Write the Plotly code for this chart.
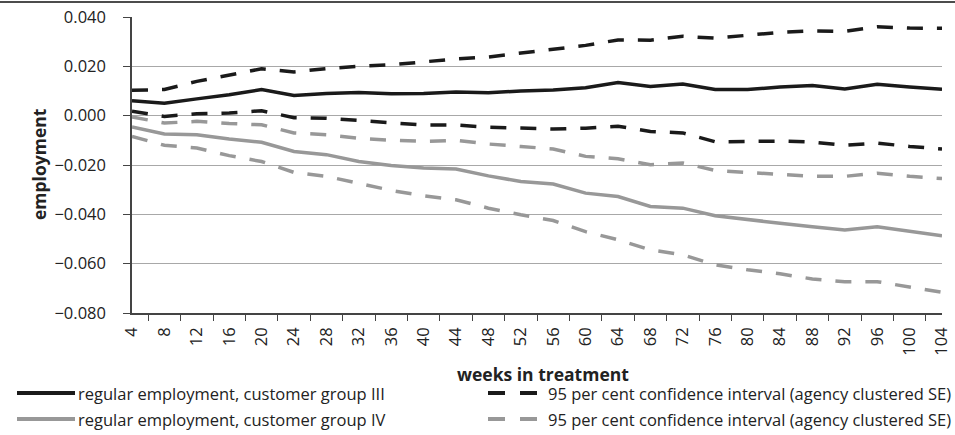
import plotly.graph_objects as go

weeks = [str(w) for w in range(4, 105, 4)]

# group III (black)
grp3 = [0.0061, 0.0050, 0.0068, 0.0085, 0.0106, 0.0082, 0.0090, 0.0094, 0.0089, 0.0090, 0.0096, 0.0093,
        0.0100, 0.0104, 0.0113, 0.0134, 0.0118, 0.0128, 0.0106, 0.0106, 0.0116, 0.0122, 0.0108, 0.0127,
        0.0116, 0.0107]
grp3_hi = [0.0103, 0.0106, 0.0139, 0.0166, 0.0190, 0.0177, 0.0191, 0.0200, 0.0206, 0.0218, 0.0230, 0.0238,
           0.0253, 0.0268, 0.0285, 0.0307, 0.0306, 0.0322, 0.0314, 0.0326, 0.0338, 0.0344, 0.0342, 0.0360,
           0.0355, 0.0354]
grp3_lo = [0.0018, -0.0003, 0.0008, 0.0011, 0.0020, -0.0008, -0.0010, -0.0019, -0.0030, -0.0038, -0.0038,
           -0.0047, -0.0050, -0.0054, -0.0051, -0.0043, -0.0064, -0.0070, -0.0106, -0.0106, -0.0103,
           -0.0107, -0.0120, -0.0111, -0.0125, -0.0135]

# group IV (grey)
grp4 = [-0.0046, -0.0074, -0.0077, -0.0095, -0.0108, -0.0145, -0.0158, -0.0186, -0.0202, -0.0212, -0.0216,
        -0.0244, -0.0267, -0.0277, -0.0314, -0.0328, -0.0368, -0.0375, -0.0406, -0.0422, -0.0436, -0.0450,
        -0.0463, -0.0450, -0.0470, -0.0487]
grp4_hi = [-0.0005, -0.0030, -0.0023, -0.0032, -0.0037, -0.0070, -0.0077, -0.0092, -0.0100, -0.0104, -0.0100,
           -0.0115, -0.0125, -0.0135, -0.0165, -0.0175, -0.0199, -0.0192, -0.0222, -0.0230, -0.0235,
           -0.0246, -0.0246, -0.0233, -0.0246, -0.0255]
grp4_lo = [-0.0084, -0.0120, -0.0131, -0.0162, -0.0186, -0.0230, -0.0246, -0.0273, -0.0303, -0.0325, -0.0341,
           -0.0375, -0.0402, -0.0425, -0.0470, -0.0503, -0.0544, -0.0564, -0.0605, -0.0625, -0.0641,
           -0.0662, -0.0673, -0.0673, -0.0693, -0.0716]

y_ticks = [0.04, 0.02, 0.0, -0.02, -0.04, -0.06, -0.08]

BLACK = '#1a1a1a'
GREY = '#989898'
DASH = '16px,14px'
FONT = 'Open Sans'
TXT = '#222'

fig = go.Figure()

def add_line(y, color, dash):
    fig.add_trace(go.Scatter(
        x=weeks, y=y, mode='lines',
        line=dict(color=color, width=3.5, dash=dash),
        showlegend=False
    ))

add_line(grp4_lo, GREY, DASH)
add_line(grp4_hi, GREY, DASH)
add_line(grp4, GREY, 'solid')
add_line(grp3_lo, BLACK, DASH)
add_line(grp3_hi, BLACK, DASH)
add_line(grp3, BLACK, 'solid')

# plot area in pixels: x 132..942, y 17..313
FW, FH = 955, 435
L, R, T, B = 132, 942, 17, 313
W, H = R - L, B - T

def px(x):
    return (x - L) / W

def py(y):
    return (B - y) / H

# legend drawn by hand so the sample lines match the original length
legend_rows = [
    (393, BLACK, 'regular employment, customer group III'),
    (419, GREY, 'regular employment, customer group IV'),
]
shapes = []
annotations = []
for yy, col, label in legend_rows:
    shapes.append(dict(type='line', xref='paper', yref='paper',
                       x0=px(17), x1=px(75), y0=py(yy), y1=py(yy),
                       line=dict(color=col, width=4)))
    shapes.append(dict(type='line', xref='paper', yref='paper',
                       x0=px(488), x1=px(538), y0=py(yy), y1=py(yy),
                       line=dict(color=col, width=4, dash='17px,15px')))
    annotations.append(dict(xref='paper', yref='paper', x=px(76), y=py(yy),
                            xanchor='left', yanchor='middle', showarrow=False,
                            text=label, font=dict(family=FONT, size=16.5, color=TXT)))
    annotations.append(dict(xref='paper', yref='paper', x=px(546), y=py(yy),
                            xanchor='left', yanchor='middle', showarrow=False,
                            text='95 per cent confidence interval (agency clustered SE)',
                            font=dict(family=FONT, size=16.5, color=TXT)))

# axis titles
annotations.append(dict(xref='paper', yref='paper', x=px(543), y=py(374),
                        xanchor='center', yanchor='middle', showarrow=False,
                        text='<b>weeks in treatment</b>', font=dict(family=FONT, size=17.5, color=TXT)))
annotations.append(dict(xref='paper', yref='paper', x=px(39), y=py(164),
                        xanchor='center', yanchor='middle', showarrow=False, textangle=-90,
                        text='<b>employment</b>', font=dict(family=FONT, size=17.5, color=TXT)))

# rule across the top of the figure
shapes.append(dict(type='line', xref='paper', yref='paper',
                   x0=px(0), x1=px(955), y0=py(2), y1=py(2),
                   line=dict(color='#111', width=1.5)))

fig.update_layout(
    width=FW, height=FH,
    margin=dict(l=L, r=FW - R, t=T, b=FH - B, autoexpand=False),
    plot_bgcolor='white', paper_bgcolor='white',
    font=dict(family=FONT, size=16.5, color=TXT),
    showlegend=False,
    shapes=shapes,
    annotations=annotations,
    xaxis=dict(
        type='category', tickangle=-90, tickson='boundaries',
        ticks='outside', ticklen=6, tickcolor='#444', tickwidth=1,
        showline=True, linecolor='#444', linewidth=1.5,
        showgrid=False, tickfont=dict(size=16.5), automargin=False,
        ticklabelstandoff=6,
    ),
    yaxis=dict(
        range=[-0.08, 0.04], tickvals=y_ticks, tickformat='.3f',
        ticks='outside', ticklen=7, tickcolor='#444', tickwidth=1,
        showline=True, linecolor='#444', linewidth=1.5,
        showgrid=True, gridcolor='#a8a8a8', gridwidth=1,
        zeroline=False, tickfont=dict(size=16.5), automargin=False,
        ticklabelstandoff=14,
    ),
)

# drop the browser's default body margin so the figure sits at the window corner
fig.write_html("out.html", config={'displayModeBar': False},
               post_script="document.body.style.margin='0px';")
